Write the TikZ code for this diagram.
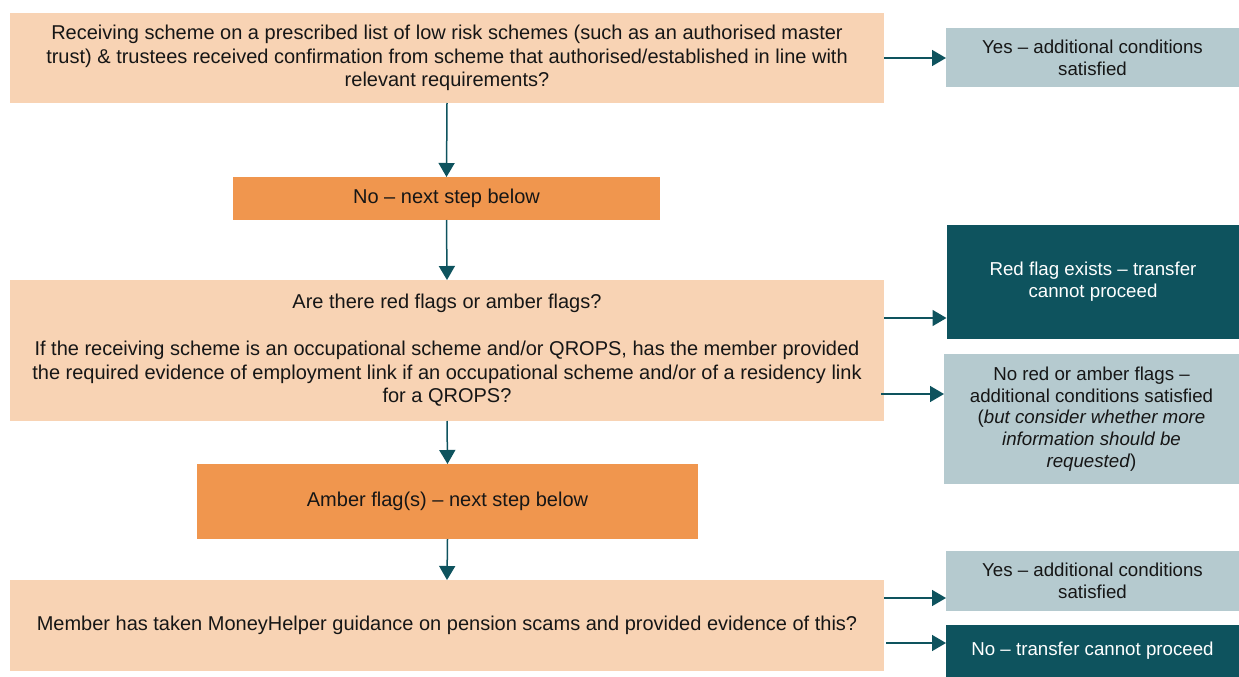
\documentclass[tikz,border=0pt]{standalone}
\usepackage{fontspec}
\setmainfont{Liberation Sans}
\usetikzlibrary{arrows.meta, positioning}
\definecolor{cPeach}{RGB}{248,211,180}
\definecolor{cAmber}{RGB}{240,150,78}
\definecolor{cTeal} {RGB}{14,83,94}
\definecolor{cMist} {RGB}{181,202,207}
\definecolor{cInk}  {RGB}{22,22,22}

\begin{document}
\begin{tikzpicture}[
  x=1pt, y=-1pt,
  font=\fontsize{20}{23.5}\selectfont,
  >={Triangle[length=14pt, width=16pt]},
  % -- shared box style
  flowbox/.style={
    inner sep=0pt, outer sep=0pt, align=center, text=cInk
  },
  question/.style={flowbox, fill=cPeach, minimum width=874pt},
  nextstep/.style={flowbox, fill=cAmber},
  outcome/.style ={flowbox, minimum width=293pt,
    font=\fontsize{18.7}{21.8}\selectfont},
  passbox/.style ={outcome, fill=cMist},
  stopbox/.style ={outcome, fill=cTeal, text=white},
  % -- arrows
  arr/.style={->, draw=cTeal, line width=1.5pt},
]
\useasboundingbox (0,0) rectangle (1239,677);

%% Question boxes (left column)
\node[question, minimum height=90pt] (Q1) at (447,58) {
  Receiving scheme on a prescribed list of low risk schemes (such as an authorised master\\
  trust) \& trustees received confirmation from scheme that authorised/established in line with\\
  relevant requirements?
};

\node[nextstep, minimum width=427pt, minimum height=43pt] (N1) at (446.5,198.5)
  {No -- next step below};

\node[question, minimum height=141pt] (Q2) at (447,350.5) {
  Are there red flags or amber flags?\\[23.5pt]
  If the receiving scheme is an occupational scheme and/or QROPS, has the member provided\\
  the required evidence of employment link if an occupational scheme and/or of a residency link\\
  for a QROPS?
};

\node[nextstep, minimum width=501pt, minimum height=75pt] (A1) at (447.5,501.5)
  {Amber flag(s) -- next step below};

\node[question, minimum height=91pt] (Q3) at (447,625.5)
  {Member has taken MoneyHelper guidance on pension scams and provided evidence of this?};

%% Outcome boxes (right column)
\node[passbox, minimum height=59pt] (Y1) at (1092.5,57.5)
  {Yes -- additional conditions\\satisfied};

\node[stopbox, minimum height=114pt] (R1) at (1093,282)
  {Red flag exists -- transfer\\cannot proceed};

\node[passbox, minimum width=295pt, minimum height=130pt] (N2) at (1091.5,419) {
  No red or amber flags --\\
  additional conditions satisfied\\
  (\textit{but consider whether more}\\
  \textit{information should be}\\
  \textit{requested})
};

\node[passbox, minimum height=60pt] (Y2) at (1092.5,581)
  {Yes -- additional conditions\\satisfied};

\node[stopbox, minimum height=52pt] (R2) at (1092.5,651)
  {No -- transfer cannot proceed};

%% Down the steps
\draw[arr] (Q1.south) -- (N1.north);
\draw[arr] (N1.south) -- (Q2.north);
\draw[arr] (Q2.south) -- (A1.north);
\draw[arr] (A1.south) -- (Q3.north);

%% Across to the outcomes
\draw[arr] (Q1.east) -- (Y1.west |- Q1.east);
\draw[arr] ([yshift=32.5pt]Q2.east) coordinate (q2a) -- (q2a -| R1.west);
\draw[arr] ([yshift=-43.5pt,xshift=-3pt]Q2.east) coordinate (q2b) -- (q2b -| N2.west);
\draw[arr] ([yshift=27.5pt]Q3.east) coordinate (q3a) -- (q3a -| Y2.west);
\draw[arr] ([yshift=-17.5pt,xshift=2pt]Q3.east) coordinate (q3b) -- (q3b -| R2.west);

\end{tikzpicture}
\end{document}
